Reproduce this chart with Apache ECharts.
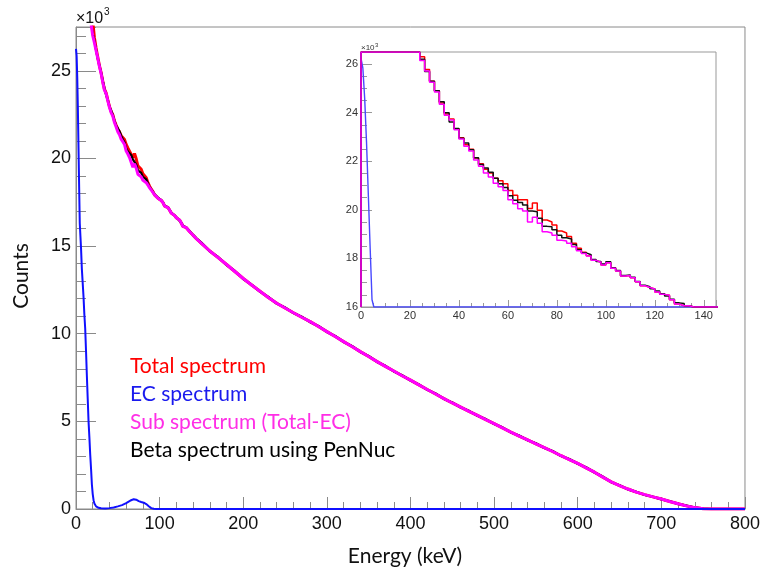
<!DOCTYPE html>
<html>
<head>
<meta charset="utf-8">
<script src="https://cdn.jsdelivr.net/npm/echarts@6/dist/echarts.min.js"></script>
<style>
html,body{margin:0;padding:0;background:#fff;}
#chart{width:763px;height:575px;}
</style>
</head>
<body>
<div id="chart"></div>
<script>
// Energy grid (keV), bin start positions
const energy = [0,5,10,15,
  20,22,24,26,28,30,32,34,36,38,40,42,44,46,48,50,52,54,56,58,60,62,64,66,68,70,
  72,74,76,78,80,82,84,86,88,90,92,94,96,98,100,102,104,106,108,110,112,114,116,118,120,
  122,124,126,128,130,132,134,136,138,140,142,144,146,
  150,160,170,180,190,200,210,220,230,240,250,260,270,280,290,300,310,320,330,340,350,
  360,370,380,390,400,410,420,430,440,450,460,470,480,490,500,510,520,530,540,550,
  560,570,580,590,600,610,620,630,640,650,660,670,680,690,700,710,720,730,740,750,
  760,770,780,790,800];

// Counts (x10^3)
const totalSpectrum = [62,49,42,33.8,
  27.85,26.9,26.3,25.78,25.3,24.9,24.4,23.95,23.74,23.34,22.97,22.68,22.5,22.14,21.9,21.67,21.52,21.3,21.2,21.08,20.8,20.6,20.42,20.42,20.06,20.28,
  19.98,19.58,19.5,19.38,19.13,19.05,18.9,18.62,18.42,18.25,18.11,17.92,17.84,17.73,17.82,17.6,17.48,17.28,17.3,17.2,17.04,16.88,16.8,16.74,16.62,
  16.52,16.48,16.3,16.12,16.05,16.05,15.98,15.82,15.75,15.62,15.52,15.42,15.33,
  15.15,14.72,14.34,13.95,13.55,13.15,12.78,12.42,12.07,11.74,11.47,11.2,10.94,10.69,10.41,10.12,9.84,9.55,9.27,8.98,8.7,
  8.41,8.14,7.87,7.6,7.35,7.08,6.82,6.56,6.3,6.05,5.81,5.57,5.34,5.1,4.87,4.63,4.39,4.16,3.94,3.72,
  3.5,3.28,3.04,2.82,2.6,2.35,2.1,1.82,1.55,1.33,1.14,0.96,0.82,0.69,0.57,0.43,0.3,0.18,0.08,0.02,
  0,0,0,0,0];

const subSpectrum = [36,33,30.6,28.7,
  27.0,26.6,26.15,25.72,25.25,24.85,24.35,23.9,23.7,23.3,22.92,22.62,22.42,22.05,21.8,21.52,21.35,21.1,20.95,20.8,20.42,20.25,20.05,19.95,19.5,19.7,
  19.45,19.1,19.05,18.95,18.75,18.72,18.62,18.48,18.32,18.2,18.1,17.92,17.84,17.73,17.82,17.6,17.48,17.28,17.3,17.2,17.04,16.88,16.8,16.74,16.62,
  16.52,16.48,16.3,16.12,16.05,16.05,15.98,15.82,15.75,15.62,15.52,15.42,15.33,
  15.15,14.72,14.34,13.95,13.55,13.15,12.78,12.42,12.07,11.74,11.47,11.2,10.94,10.69,10.41,10.12,9.84,9.55,9.27,8.98,8.7,
  8.41,8.14,7.87,7.6,7.35,7.08,6.82,6.56,6.3,6.05,5.81,5.57,5.34,5.1,4.87,4.63,4.39,4.16,3.94,3.72,
  3.5,3.28,3.04,2.82,2.6,2.35,2.1,1.82,1.55,1.33,1.14,0.96,0.82,0.69,0.57,0.43,0.3,0.18,0.08,0.02,
  0,0,0,0,0];

const penNucSpectrum = [36.4,33.3,30.8,28.8,
  27.1,26.7,26.2,25.7,25.3,24.9,24.45,24.0,23.62,23.35,22.95,22.75,22.48,22.15,21.87,21.72,21.55,21.3,21.08,20.92,20.58,20.4,20.3,20.2,19.95,19.92,
  19.65,19.32,19.3,19.18,18.95,18.85,18.8,18.57,18.36,18.23,18.15,17.96,17.87,17.77,17.86,17.62,17.5,17.3,17.32,17.22,17.05,16.9,16.84,16.75,16.66,
  16.55,16.45,16.32,16.17,16.14,16.05,15.96,15.85,15.76,15.64,15.54,15.44,15.35,
  15.2,14.7,14.38,13.92,13.58,13.12,12.8,12.4,12.1,11.72,11.5,11.18,10.97,10.66,10.44,10.1,9.87,9.53,9.3,8.96,8.73,
  8.39,8.17,7.85,7.63,7.33,7.11,6.8,6.59,6.28,6.08,5.79,5.6,5.32,5.13,4.85,4.66,4.37,4.19,3.92,3.75,
  3.48,3.31,3.02,2.85,2.58,2.38,2.08,1.85,1.53,1.36,1.12,0.98,0.8,0.7,0.55,0.44,0.29,0.19,0.08,0.03,
  0,0,0,0,0];

// EC spectrum
const ecEnergy = [0,0.75,1.5,2.25,3,3.75,4.5,5.25,6,7,8,9,10,11,12,13,14,15,16,17,18,19,20,21,22,24,27,30,35,40,45,50,55,60,63,66,69,72,75,78,81,84,87,90,93,96,100,800];
const ecSpectrum = [26.25,25.85,24.6,22.8,20.6,18.4,16.3,15.6,14.9,13.7,12.9,12.1,11.1,10.3,9.0,7.6,6.3,5.0,4.1,3.1,2.3,1.4,0.85,0.5,0.32,0.15,0.07,0.04,0.03,0.05,0.09,0.15,0.22,0.33,0.42,0.5,0.56,0.53,0.45,0.4,0.36,0.28,0.16,0.05,0.01,0,0,0];

const mainXTicks = {min:0, max:800, interval:100};
const mainYTicks = {min:0, max:27.5, interval:5};
const insetXTicks = {min:0, max:145, interval:20};
const insetYTicks = {min:16, max:26.5, interval:2};

const legendItems = [
  {text:'Total spectrum', color:'#ff0000'},
  {text:'EC spectrum', color:'#1a1aee'},
  {text:'Sub spectrum (Total-EC)', color:'#ff2ee6'},
  {text:'Beta spectrum using PenNuc', color:'#000000'}
];

const clampInset = v => Math.min(Math.max(v, insetYTicks.min), insetYTicks.max);
const pairs = (xs, ys) => xs.map((x, i) => [x, ys[i]]);
const insetPairs = (xs, ys) => [[xs[0], insetYTicks.min]].concat(xs.map((x, i) => [x, clampInset(ys[i])]));

const numFont = 'Liberation Sans';
const frameColor = '#8a8a8a';

const chart = echarts.init(document.getElementById('chart'), null, {renderer:'canvas'});

function axisCommon(t, o) {
  return Object.assign({
    type:'value', min:t.min, max:t.max, interval:t.interval,
    splitLine:{show:false},
    axisLine:{show:true, lineStyle:{color:frameColor, width:1}},
    axisTick:{show:true, inside:true, lineStyle:{color:frameColor, width:1}},
    minorTick:{show:true, lineStyle:{color:frameColor, width:1}},
    axisLabel:{color:'#111', fontFamily:numFont, showMaxLabel:false}
  }, o);
}

const option = {
  animation:false,
  backgroundColor:'#fff',
  grid:[
    {left:76, top:27, width:669, height:482, show:true, borderColor:frameColor, borderWidth:1, backgroundColor:'#fff'},
    {left:361, top:52, width:355, height:255, show:true, borderColor:'#999', borderWidth:1, backgroundColor:'#fff', z:5}
  ],
  xAxis:[
    axisCommon(mainXTicks, {gridIndex:0,
      axisTick:{show:true, inside:true, length:12, lineStyle:{color:frameColor}},
      minorTick:{show:true, splitNumber:5, length:7, lineStyle:{color:frameColor}},
      axisLabel:{color:'#111', fontFamily:numFont, fontSize:18, margin:6, showMaxLabel:true}}),
    axisCommon(insetXTicks, {gridIndex:1, z:6,
      axisLine:{show:true, lineStyle:{color:'#999'}},
      axisTick:{show:true, inside:true, length:7, lineStyle:{color:'#999'}},
      minorTick:{show:true, splitNumber:4, length:4, lineStyle:{color:'#999'}},
      axisLabel:{color:'#333', fontFamily:numFont, fontSize:11, margin:3, showMaxLabel:false}})
  ],
  yAxis:[
    axisCommon(mainYTicks, {gridIndex:0,
      axisTick:{show:true, inside:true, length:20, lineStyle:{color:frameColor}},
      minorTick:{show:true, splitNumber:5, length:10, lineStyle:{color:frameColor}},
      axisLabel:{color:'#111', fontFamily:numFont, fontSize:18, margin:5, showMaxLabel:false}}),
    axisCommon(insetYTicks, {gridIndex:1, z:6,
      axisLine:{show:true, lineStyle:{color:'#999'}},
      axisTick:{show:true, inside:true, length:11, lineStyle:{color:'#999'}},
      minorTick:{show:true, splitNumber:4, length:6, lineStyle:{color:'#999'}},
      axisLabel:{color:'#333', fontFamily:numFont, fontSize:11, margin:3, showMaxLabel:false}})
  ],
  series:[
    {name:'Total spectrum', type:'line', xAxisIndex:0, yAxisIndex:0, showSymbol:false, data:pairs(energy, totalSpectrum), lineStyle:{color:'#ff0000', width:3}, z:2},
    {name:'Beta spectrum using PenNuc', type:'line', xAxisIndex:0, yAxisIndex:0, showSymbol:false, data:pairs(energy, penNucSpectrum), lineStyle:{color:'#000', width:2.2}, z:3},
    {name:'Sub spectrum (Total-EC)', type:'line', xAxisIndex:0, yAxisIndex:0, showSymbol:false, data:pairs(energy, subSpectrum), lineStyle:{color:'#ff00ff', width:3}, z:4},
    {name:'EC spectrum', type:'line', xAxisIndex:0, yAxisIndex:0, showSymbol:false, data:pairs(ecEnergy, ecSpectrum), lineStyle:{color:'#1010ff', width:2}, z:4},

    {name:'EC inset', type:'line', xAxisIndex:1, yAxisIndex:1, step:'end', showSymbol:false, data:insetPairs(ecEnergy, ecSpectrum), lineStyle:{color:'#4848ff', width:1.4}, z:7},
    {name:'Total inset', type:'line', xAxisIndex:1, yAxisIndex:1, step:'end', showSymbol:false, data:insetPairs(energy, totalSpectrum), lineStyle:{color:'#ff0000', width:1.5}, z:7},
    {name:'PenNuc inset', type:'line', xAxisIndex:1, yAxisIndex:1, step:'end', showSymbol:false, data:insetPairs(energy, penNucSpectrum), lineStyle:{color:'#111', width:1.5}, z:8},
    {name:'Sub inset', type:'line', xAxisIndex:1, yAxisIndex:1, step:'end', showSymbol:false, data:insetPairs(energy, subSpectrum), lineStyle:{color:'#ff00ff', width:1.5}, z:9}
  ],
  graphic:{elements:[
    {type:'text', x:76, y:11, z:100, style:{text:'×10', font:'16px "Liberation Sans"', fill:'#111'}},
    {type:'text', x:104, y:7, z:100, style:{text:'3', font:'10px "Liberation Sans"', fill:'#111'}},
    {type:'text', x:361, y:44, z:100, style:{text:'×10', font:'8px "Liberation Sans"', fill:'#333'}},
    {type:'text', x:375, y:42, z:100, style:{text:'3', font:'6px "Liberation Sans"', fill:'#333'}},
    {type:'text', x:21, y:276, rotation:Math.PI/2, z:100, style:{text:'Counts', align:'center', verticalAlign:'middle', font:'21px Lato', fill:'#111'}},
    {type:'text', x:405, y:556, z:100, style:{text:'Energy (keV)', align:'center', verticalAlign:'middle', font:'21px Lato', fill:'#111'}}
  ].concat(legendItems.map((it, i) => ({
    type:'text', x:130, y:366 + i*28.2, z:100,
    style:{text:it.text, align:'left', verticalAlign:'middle', font:'21px Lato', fill:it.color}
  })))}
};
chart.setOption(option);
</script>
</body>
</html>
